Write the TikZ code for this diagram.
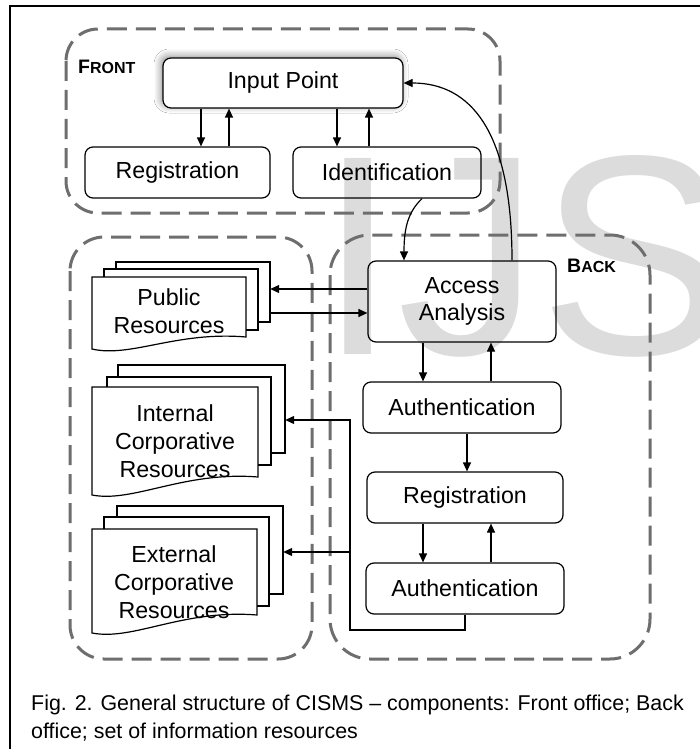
\documentclass[tikz,border=0pt]{standalone}
\usepackage{fontspec}
\setmainfont{Liberation Sans}
\usetikzlibrary{arrows.meta,shadows.blur}
\definecolor{dashgray}{HTML}{6E6E6E}
\definecolor{wmgray}{HTML}{DCDCDC}
\tikzset{
  box/.style={draw=black, line width=1.2pt, rounded corners=8pt, inner sep=0pt, align=center,
    font=\fontsize{23.2}{27.5}\selectfont},
  region/.style={draw=dashgray, line width=3pt, dash pattern=on 20pt off 9pt},
  arr/.style={line width=1.2pt, -{Triangle[length=9pt,width=8pt]}},
  page/.style={draw=black, line width=1.2pt},
  stackarea/.style={draw=none, inner sep=0pt},
  doctext/.style={inner sep=0pt, align=center, font=\fontsize{23.2}{28}\selectfont},
  lbl/.style={anchor=west, inner sep=0pt, font=\bfseries},
  captext/.style={anchor=base west, inner sep=0pt, font=\fontsize{21.4}{28}\selectfont}
}
\begin{document}
\begin{tikzpicture}[x=1pt,y=-1pt]
\useasboundingbox (0,0) rectangle (700,749);
\clip (0,0) rectangle (700,749);
\fill[white] (0,0) rectangle (700,749);
% watermark
\node[anchor=base west, inner sep=0pt, text=wmgray, font=\fontsize{285}{285}\selectfont] (wm) at (318,354) {IJS};
% outer frame
\draw[line width=1.6pt] (10,760) -- (10,6) -- (710,6);
% dashed regions
\draw[region, rounded corners=32pt] (66,29) rectangle (500,213);
\draw[region, rounded corners=34pt] (70,237) rectangle (312,659);
\draw[region, rounded corners=40pt] (330,235) rectangle (650,659);
% labels
\node[lbl] (front) at (78,67) {{\fontsize{19.5}{19}\selectfont F}{\fontsize{16}{19}\selectfont RONT}};
\node[lbl] (back) at (567,266) {{\fontsize{19.5}{19}\selectfont B}{\fontsize{16}{19}\selectfont ACK}};
% boxes
\node[box, fill=white, minimum width=240pt, minimum height=50pt,
  blur shadow={shadow xshift=-2pt, shadow yshift=2pt, shadow blur radius=7pt, shadow blur steps=8, shadow opacity=45}]
  (inp) at (283,83) {Input Point};
\node[box, minimum width=185pt, minimum height=51pt] (reg1) at (177.5,172.5) {Registration};
\node[box, minimum width=188pt, minimum height=51pt] (ident) at (387,172.5) {Identification};
\node[box, minimum width=188pt, minimum height=81pt] (aa) at (462,301.5) {Access\\Analysis};
\node[box, minimum width=198pt, minimum height=51pt] (auth1) at (462,407.5) {Authentication};
\node[box, minimum width=196pt, minimum height=51pt] (reg2) at (465,497.5) {Registration};
\node[box, minimum width=198pt, minimum height=51pt] (auth2) at (465,588.5) {Authentication};
% document stacks
\draw[page] (116,269) -- (116,262) -- (270,262) -- (270,322) -- (258,322);
\draw[page] (104,277) -- (104,269) -- (258,269) -- (258,330) -- (246,330);
\draw[page] (92,277) -- (246,277) -- (246,337) .. controls (176.7,331) and (130.5,358) .. (92,349) -- cycle;
\draw[page] (118,377) -- (118,365) -- (285,365) -- (285,453) -- (271,453);
\draw[page] (107,387) -- (107,377) -- (271,377) -- (271,465) -- (258,465);
\draw[page] (92,387) -- (258,387) -- (258,477) .. controls (183.3,471) and (133.5,503) .. (92,495) -- cycle;
\draw[page] (117,517) -- (117,506) -- (283,506) -- (283,594) -- (269,594);
\draw[page] (104,529) -- (104,517) -- (269,517) -- (269,606) -- (257,606);
\draw[page] (92,529) -- (257,529) -- (257,615) .. controls (182.8,609) and (133.3,641) .. (92,633) -- cycle;
\node[stackarea, minimum width=178pt, minimum height=87pt] (pubS) at (181,305.5) {};
\node[stackarea, minimum width=193pt, minimum height=130pt] (intS) at (188.5,430) {};
\node[stackarea, minimum width=191pt, minimum height=127pt] (extS) at (187.5,569.5) {};
\node[doctext] (pubT) at (169,311) {Public\\Resources};
\node[doctext] (intT) at (175,441) {Internal\\Corporative\\Resources};
\node[doctext] (extT) at (174,582) {External\\Corporative\\Resources};
% helper coordinates
\coordinate (v1) at (201,0); \coordinate (v2) at (229,0);
\coordinate (v3) at (337,0); \coordinate (v4) at (369,0);
\coordinate (v5) at (423,0); \coordinate (v6) at (491,0);
\coordinate (v7) at (467,0); \coordinate (v8) at (422,0);
\coordinate (v9) at (404,0); \coordinate (v10) at (512,0);
\coordinate (h1) at (0,289); \coordinate (h2) at (0,313);
\coordinate (jb) at (350,630); \coordinate (ji) at (350,420); \coordinate (je) at (350,552);
% connectors
\draw[arr] (inp.south -| v1) -- (reg1.north -| v1);
\draw[arr] (reg1.north -| v2) -- (inp.south -| v2);
\draw[arr] (inp.south -| v3) -- (ident.north -| v3);
\draw[arr] (ident.north -| v4) -- (inp.south -| v4);
\draw[arr] (ident.south -| v8) .. controls (408,212) and (404,228) .. (aa.north -| v9);
\draw[arr] (aa.north -| v10) .. controls (512,130) and (470,83) .. (inp.east);
\draw[arr] (aa.west |- h1) -- (pubS.east |- h1);
\draw[arr] (pubS.east |- h2) -- (aa.west |- h2);
\draw[arr] (aa.south -| v5) -- (auth1.north -| v5);
\draw[arr] (auth1.north -| v6) -- (aa.south -| v6);
\draw[arr] (auth1.south -| v7) -- (reg2.north -| v7);
\draw[arr] (reg2.south -| v5) -- (auth2.north -| v5);
\draw[arr] (auth2.north -| v6) -- (reg2.south -| v6);
\draw[arr] (auth2.south) -- (auth2.south |- jb) -- (jb) -- (ji) -- (intS.east |- ji);
\draw[arr] (je) -- (extS.east |- je);
% caption
\node[captext] (cap1) at (31,710) {Fig. 2. General structure of CISMS – components: Front office; Back};
\node[captext] (cap2) at (31,738) {office; set of information resources};
\end{tikzpicture}
\end{document}
